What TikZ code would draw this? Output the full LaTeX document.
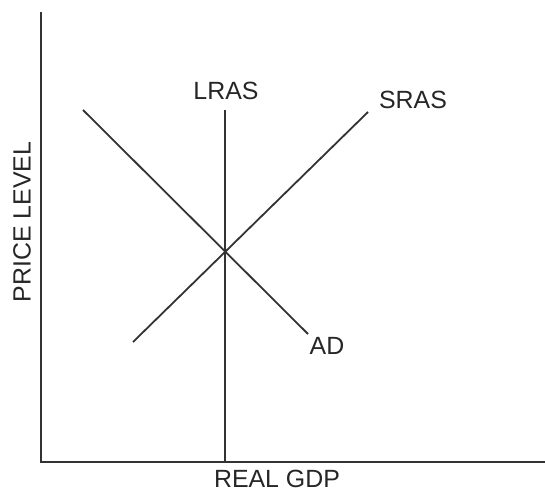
\documentclass[tikz,border=0pt]{standalone}
\usepackage{fontspec}
\setmainfont{Liberation Sans}
\begin{document}
\begin{tikzpicture}[x=1bp,y=-1bp,
  curve/.style={draw=black!80, line width=1.8bp},
  axis/.style={draw=black!80, line width=2bp},
  lbl/.style={font=\fontsize{25}{25}\selectfont, text=black!85, inner sep=0pt}]
\useasboundingbox (0,0) rectangle (545,492);
% axes
\coordinate (ytop) at (41,12);
\coordinate (origin) at (41,462);
\coordinate (xend) at (545,462);
\draw[axis] (ytop) -- (origin) -- (xend);
% curves
\coordinate (lrasT) at (225,110);
\coordinate (lrasB) at (225,462);
\coordinate (srasT) at (368,112);
\coordinate (srasB) at (133,342);
\coordinate (adT) at (83,110);
\coordinate (adB) at (308,334);
\draw[curve] (lrasT) -- (lrasB);
\draw[curve] (srasB) -- (srasT);
\draw[curve] (adT) -- (adB);
% labels
\node[lbl] (lras) at (226,91) {LRAS};
\node[lbl] (sras) at (413,100) {SRAS};
\node[lbl] (ad) at (327,346) {AD};
\node[lbl] (xlab) at (277,479) {REAL GDP};
\node[lbl, rotate=90] (ylab) at (22,222) {PRICE LEVEL};
\end{tikzpicture}
\end{document}
